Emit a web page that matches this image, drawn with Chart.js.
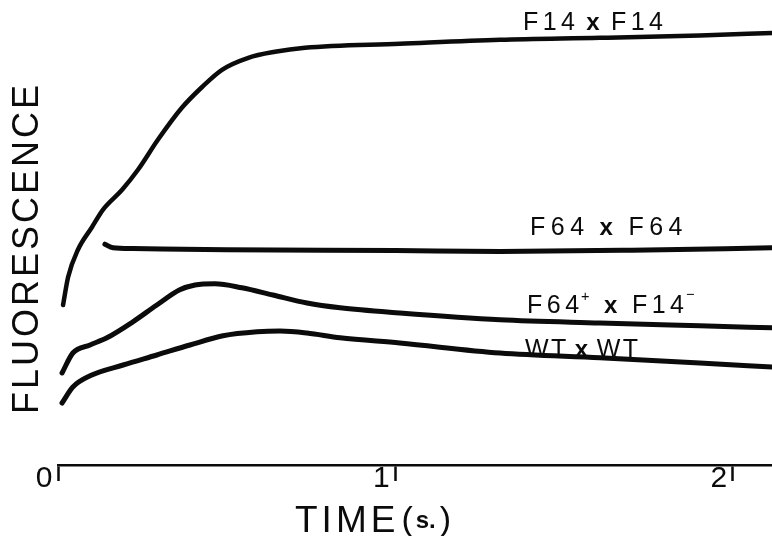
<!DOCTYPE html>
<html>
<head>
<meta charset="utf-8">
<script src="https://cdn.jsdelivr.net/npm/chart.js@4.4.1/dist/chart.umd.min.js"></script>
<style>
  html, body { margin: 0; padding: 0; background: #fff; }
  #wrap { width: 772px; height: 536px; }
</style>
</head>
<body>
<div id="wrap"><canvas id="fluo" width="772" height="536"></canvas></div>
<script>
// time (s) / fluorescence (arb. units)
const timeF14  = [0.015, 0.030, 0.059, 0.101, 0.133, 0.190, 0.237, 0.296, 0.367, 0.427, 0.486, 0.564, 0.643, 0.732, 1.013, 1.31, 1.606, 1.902, 2.116];
const fluorF14 = [40, 47, 53.8, 59.5, 63.8, 68.8, 73.8, 81.3, 89.3, 94.5, 98.8, 101.8, 103.3, 104.3, 105.3, 106.3, 106.8, 107.4, 108];

const timeF64  = [0.139, 0.163, 0.222, 0.5, 1.0, 1.31, 1.7, 2.116];
const fluorF64 = [55.2, 54.3, 54.1, 53.8, 53.6, 53.4, 53.7, 54.3];

const timeMix  = [0.012, 0.044, 0.095, 0.145, 0.222, 0.293, 0.361, 0.406, 0.465, 0.545, 0.637, 0.738, 0.836, 1.013, 1.31, 1.606, 1.902, 2.116];
const fluorMix = [23, 28, 30, 31.8, 35.8, 40, 43.8, 45, 45.3, 44.3, 42.5, 40.5, 39.3, 38, 36.3, 35.5, 34.8, 34.3];

const timeWT  = [0.012, 0.044, 0.095, 0.193, 0.293, 0.391, 0.489, 0.59, 0.658, 0.738, 0.836, 1.013, 1.31, 1.606, 1.902, 2.116];
const fluorWT = [15.5, 19.5, 22.3, 25, 27.5, 30, 32.3, 33.3, 33.5, 33, 31.8, 30.5, 28, 26.8, 25.5, 24.5];

const seriesNames = ['F14×F14', 'F64×F64', 'F64⁺×F14⁻', 'WT×WT'];
const xTicks = [0, 1, 2];
const xTickLabels = ['0', '1', '2'];
const xTitle = 'TIME';
const xUnit = 's.';
const yTitle = 'FLUORESCENCE';

const INK = '#0b0b0b';
const FONT = '"Liberation Sans", Arial, sans-serif';

function pts(xs, ys) {
  return xs.map((x, i) => ({ x, y: ys[i] }));
}

// draws a label, turning ⁺ ⁻ into raised signs and × into a small bold cross
function drawRich(ctx, text, x, y, size, sp, crossGap) {
  let cx = x;
  for (const ch of text) {
    if (ch === '⁺' || ch === '⁻') {
      cx += 2 - sp;
      ctx.font = `normal ${size * 0.58}px ${FONT}`;
      const g = ch === '⁺' ? '+' : '−';
      ctx.fillText(g, cx, y - size * (ch === '⁺' ? 0.5 : 0.58));
      cx += ctx.measureText(g).width + sp;
    } else if (ch === '×') {
      cx += crossGap;
      ctx.font = `bold ${size * 0.96}px ${FONT}`;
      ctx.fillText('x', cx, y);
      cx += ctx.measureText('x').width + sp + crossGap;
    } else {
      ctx.font = `normal ${size}px ${FONT}`;
      ctx.fillText(ch, cx, y);
      cx += ctx.measureText(ch).width + sp;
    }
  }
}

const textPlugin = {
  id: 'textPlugin',
  afterDraw(chart) {
    const ctx = chart.ctx;
    ctx.save();
    ctx.fillStyle = INK;
    ctx.textBaseline = 'alphabetic';
    ctx.textAlign = 'left';

    // curve labels: left, baseline, letter gap, extra gap round the cross
    const spots = [[523, 30, 4.4, 7], [530, 235, 5.5, 10], [527, 313, 4.5, 10], [525, 357, 2.5, 6]];
    seriesNames.forEach((name, i) => {
      const [x, y, sp, cg] = spots[i];
      drawRich(ctx, name, x, y, 25, sp, cg);
    });

    // x title
    ctx.font = `normal 37px ${FONT}`;
    ctx.letterSpacing = '4px';
    ctx.fillText(xTitle, 295, 532);
    let cx = 295 + ctx.measureText(xTitle).width + 2;
    ctx.letterSpacing = '0px';
    ctx.font = `normal 34px ${FONT}`;
    ctx.fillText('(', cx, 530);
    cx += ctx.measureText('(').width + 3;
    ctx.font = `bold 24px ${FONT}`;
    ctx.fillText(xUnit, cx, 528);
    cx += ctx.measureText(xUnit).width + 4;
    ctx.font = `normal 34px ${FONT}`;
    ctx.fillText(')', cx, 530);

    // y title
    ctx.translate(38, 248);
    ctx.rotate(-Math.PI / 2);
    ctx.textAlign = 'center';
    ctx.font = `normal 36px ${FONT}`;
    ctx.letterSpacing = '3px';
    ctx.fillText(yTitle, 0, 0);
    ctx.restore();
  }
};

const lineStyle = {
  borderColor: INK,
  borderWidth: 5,
  pointRadius: 0,
  fill: false,
  cubicInterpolationMode: 'monotone',
  borderCapStyle: 'round'
};

new Chart(document.getElementById('fluo'), {
  type: 'line',
  data: {
    datasets: [
      { label: seriesNames[0], data: pts(timeF14, fluorF14), ...lineStyle, borderWidth: 4.5 },
      { label: seriesNames[1], data: pts(timeF64, fluorF64), ...lineStyle },
      { label: seriesNames[2], data: pts(timeMix, fluorMix), ...lineStyle },
      { label: seriesNames[3], data: pts(timeWT, fluorWT), ...lineStyle }
    ]
  },
  options: {
    responsive: false,
    animation: false,
    layout: { padding: { left: 58, right: 0, top: 0, bottom: 0 } },
    plugins: { legend: { display: false }, tooltip: { enabled: false } },
    scales: {
      x: {
        type: 'linear',
        min: 0,
        max: 2.116,
        afterBuildTicks(scale) { scale.ticks = xTicks.map(v => ({ value: v })); },
        afterFit(scale) { scale.height = 71; },
        grid: {
          display: true,
          drawOnChartArea: false,
          drawTicks: true,
          tickLength: 16,
          tickWidth: 2.5,
          tickColor: INK
        },
        border: { display: true, color: INK, width: 2.5, dash: [40, 6] },
        ticks: {
          color: INK,
          font: { family: FONT, size: 30 },
          padding: -20,
          labelOffset: -14,
          maxRotation: 0,
          autoSkip: false,
          callback: (v) => xTickLabels[xTicks.indexOf(v)] ?? ''
        }
      },
      y: {
        display: false,
        min: 0,
        max: 116.25
      }
    }
  },
  plugins: [textPlugin]
});
</script>
</body>
</html>
